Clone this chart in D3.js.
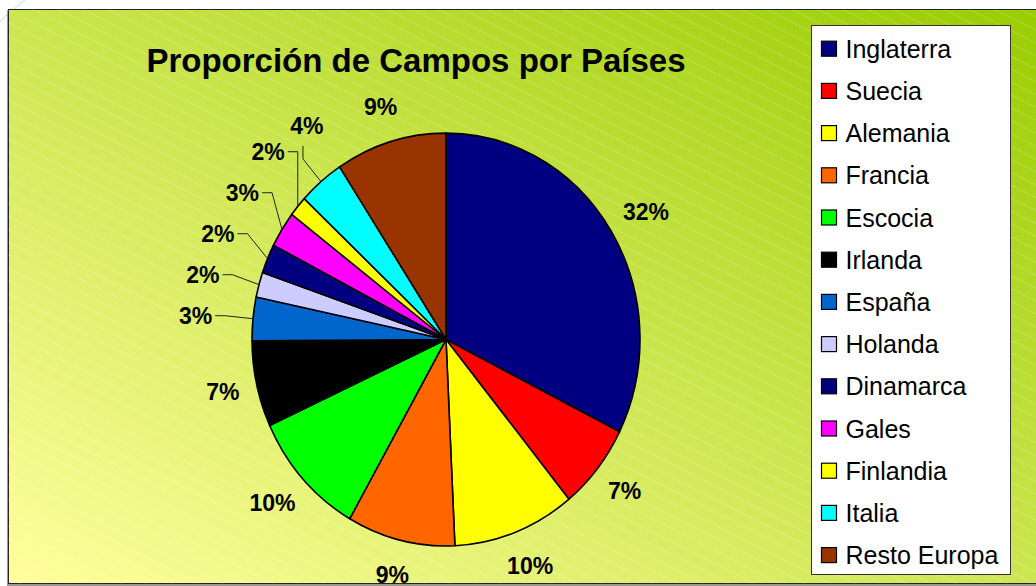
<!DOCTYPE html>
<html>
<head>
<meta charset="utf-8">
<script src="https://cdn.jsdelivr.net/npm/d3@7"></script>
<style>
  body { margin: 0; background: #fff; }
  svg { display: block; font-family: "Liberation Sans", Arial, sans-serif; }
</style>
</head>
<body>
<div id="chart"></div>
<script>
// datos (porcentaje de campos)
var paises = ["Inglaterra", "Suecia", "Alemania", "Francia", "Escocia", "Irlanda", "España",
              "Holanda", "Dinamarca", "Gales", "Finlandia", "Italia", "Resto Europa"]
var valores = [32.4, 6.7, 10.2, 9.0, 9.9, 6.75, 3.4, 1.96, 2.3, 2.8, 1.6, 3.8, 9.25]
var titulo = "Proporción de Campos por Países"

var colores = ["#000080", "#ff0000", "#ffff00", "#ff6600", "#00ff00", "#000000", "#0066cc",
               "#ccccff", "#000080", "#ff00ff", "#ffff00", "#00ffff", "#993300"]

var width = 1036,
    height = 586

var cx = 446, cy = 339.5,
    radius = 194,
    ky = 1.064   // el pastel es un poco mas alto que ancho

var color = d3.scaleOrdinal().domain(paises).range(colores)

var datos = paises.map(function(p, i){ return {pais: p, valor: valores[i]} })
var total = d3.sum(valores)
var fmt = function(v){ return Math.round(v / total * 100) + "%" }

var svg = d3.select("#chart")
  .append("svg")
  .attr("width", width)
  .attr("height", height)

var defs = svg.append("defs")

var grad = defs.append("linearGradient")
  .attr("id", "fondo")
  .attr("x1", "0%").attr("y1", "100%")
  .attr("x2", "100%").attr("y2", "0%")
grad.append("stop").attr("offset", "0%").attr("stop-color", "#ffff9c")
grad.append("stop").attr("offset", "100%").attr("stop-color", "#99cc00")

var rayas = defs.append("pattern")
  .attr("id", "rayas")
  .attr("patternUnits", "userSpaceOnUse")
  .attr("width", 12)
  .attr("height", 11.5)
  .attr("patternTransform", "rotate(27)")
rayas.append("line")
  .attr("x1", 0).attr("y1", 5).attr("x2", 12).attr("y2", 5)
  .attr("stroke", "#fff")
  .attr("stroke-opacity", 0.4)
  .attr("stroke-width", 1)
  .attr("stroke-dasharray", "1.5,1.5")

// FONDO

svg.append("line")
  .attr("x1", 0).attr("y1", 21).attr("x2", 25).attr("y2", 0)
  .attr("stroke", "#7fc4c4")
  .attr("stroke-dasharray", "1,1")

svg.append("rect")
  .attr("x", 7).attr("y", 10).attr("width", 1040).attr("height", 576)
  .attr("fill", "#999")

svg.append("rect")
  .attr("x", 8.5).attr("y", 9.5).attr("width", 1040).attr("height", 574)
  .attr("fill", "url(#fondo)")
  .attr("stroke", "#222")

svg.append("rect")
  .attr("x", 8.5).attr("y", 9.5).attr("width", 1040).attr("height", 574)
  .attr("fill", "url(#rayas)")

svg.append("text")
  .attr("x", 416)
  .attr("y", 72)
  .attr("text-anchor", "middle")
  .attr("font-size", 33)
  .attr("font-weight", "bold")
  .attr("fill", "#000")
  .text(titulo)

// PASTEL

var pie = d3.pie()
  .sort(null)
  .value(function(d){ return d.valor })

var arcos = pie(datos)

var arc = d3.arc()
  .innerRadius(0)
  .outerRadius(radius)

var g = svg.append("g")
  .attr("transform", "translate(" + cx + "," + cy + ") scale(1," + ky + ")")

g.selectAll(".slice")
  .data(arcos)
  .enter()
  .append("path")
  .attr("class", "slice")
  .attr("d", arc)
  .attr("fill", function(d){ return color(d.data.pais) })
  .attr("stroke", "#000")
  .attr("stroke-width", 1.6)
  .attr("stroke-linejoin", "round")
  .attr("vector-effect", "non-scaling-stroke")

// ETIQUETAS

function punto(a, rr){
  return [cx + rr * Math.sin(a), cy - rr * Math.cos(a) * ky]
}

var etiquetas = svg.append("g")
  .attr("font-size", 23)
  .attr("font-weight", "bold")
  .attr("fill", "#000")

var lineas = svg.append("g")
  .attr("fill", "none")
  .attr("stroke", "#222")
  .attr("stroke-width", 1)

var chicos = [], arriba = []

arcos.forEach(function(d){
  var a = (d.startAngle + d.endAngle) / 2
  d.mid = a
  if(d.data.valor < 5 && a > Math.PI * 1.5 && a < Math.PI * 1.75){
    chicos.push(d)
  } else if(d.data.valor < 5 && a >= Math.PI * 1.75){
    arriba.push(d)
  } else {
    var p = punto(a, 212)
    var t = etiquetas.append("text")
      .attr("dy", "0.35em")
      .attr("text-anchor", "middle")
      .text(fmt(d.data.valor))
    var w = t.node().getComputedTextLength()
    t.attr("x", p[0] + Math.sin(a) * w / 2)
     .attr("y", p[1] - Math.cos(a) * 17)
  }
})

// etiquetas pequeñas a la izquierda, con linea guia
var R = 222, sep = 41, prevY = Infinity
chicos.forEach(function(d){
  var nat = punto(d.mid, R)
  var y = Math.min(nat[1], prevY - sep)
  prevY = y
  var borde = punto(d.mid, radius)
  var dyc = (y - cy) / ky
  var xc = cx - Math.sqrt(Math.max(R * R - dyc * dyc, 0))
  var xe = Math.min(xc, borde[0])
  lineas.append("path")
    .attr("d", d3.line()([borde, [xe, y], [xe - 10, y]]))
  etiquetas.append("text")
    .attr("x", xe - 13)
    .attr("y", y)
    .attr("dy", "0.35em")
    .attr("text-anchor", "end")
    .text(fmt(d.data.valor))
})

arriba.forEach(function(d){
  var borde = punto(d.mid, radius)
  var codo = punto(d.mid, R)
  lineas.append("path")
    .attr("d", d3.line()([borde, codo, [codo[0], codo[1] - 13]]))
  etiquetas.append("text")
    .attr("x", codo[0] + 4)
    .attr("y", codo[1] - 25)
    .attr("text-anchor", "middle")
    .text(fmt(d.data.valor))
})

// LEYENDA

var leyenda = svg.append("g")

leyenda.append("rect")
  .attr("x", 811.5).attr("y", 25.5)
  .attr("width", 199).attr("height", 549)
  .attr("fill", "#fff")
  .attr("stroke", "#333")

var items = leyenda.selectAll(".item")
  .data(paises)
  .enter()
  .append("g")
  .attr("class", "item")
  .attr("transform", function(d, i){ return "translate(821," + (48.7 + i * 42.2) + ")" })

items.append("rect")
  .attr("x", 0.5).attr("y", -7.5)
  .attr("width", 15).attr("height", 15)
  .attr("fill", function(d){ return color(d) })
  .attr("stroke", "#000")
  .attr("stroke-width", 1.2)

items.append("text")
  .attr("x", 24.5)
  .attr("y", 9)
  .attr("font-size", 25)
  .attr("fill", "#000")
  .text(function(d){ return d })
</script>
</body>
</html>
